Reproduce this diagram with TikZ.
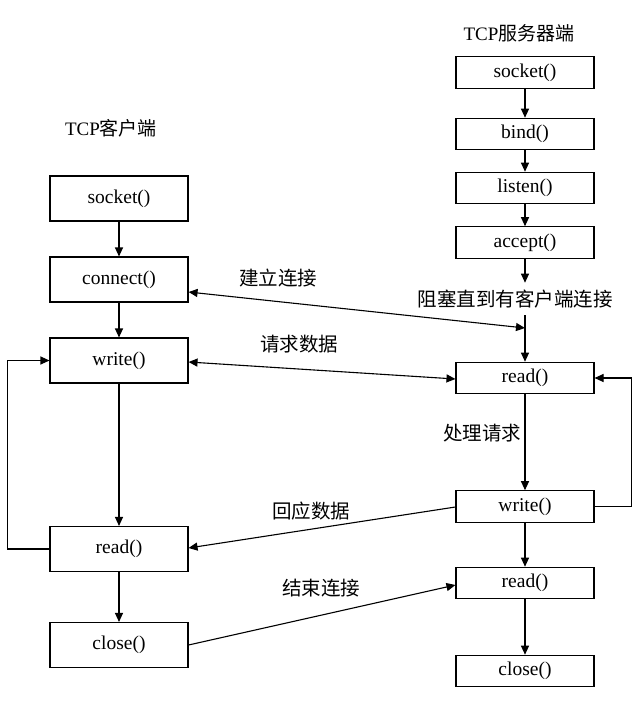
\documentclass[tikz,border=0pt]{standalone}
\usepackage{fontspec}
\setmainfont{Liberation Serif}
\newfontfamily\cjk{Noto Sans CJK SC}
\usetikzlibrary{arrows.meta}
\tikzset{
  box/.style={draw, line width=1.1pt, minimum width=138pt, inner sep=0pt, font=\fontsize{19.5}{19.5}\selectfont},
  cbox/.style={box, minimum height=45pt},
  sbox/.style={box, minimum height=31.5pt},
  lab/.style={font=\fontsize{19.5}{19.5}\selectfont\cjk, inner sep=0pt},
  ttl/.style={font=\fontsize{19}{19}\selectfont, inner sep=0pt},
  ln/.style={line width=1.1pt},
  arr/.style={ln, -{Triangle[length=9pt,width=8pt]}},
  darr/.style={ln, {Triangle[length=9pt,width=8pt]}-{Triangle[length=9pt,width=8pt]}},
}
\begin{document}
\begin{tikzpicture}[x=1pt,y=-1pt]
\useasboundingbox (0,0) rectangle (640,714);
\fill[white] (0,0) rectangle (640,714);
% titles
\node[ttl] (tc) at (111,128) {TCP{\cjk 客户端}};
\node[ttl] (ts) at (519,33) {TCP{\cjk 服务器端}};
% client
\node[cbox] (c1) at (119,198.5) {socket()};
\node[cbox] (c2) at (119,279.5) {connect()};
\node[cbox] (c3) at (119,360.5) {write()};
\node[cbox] (c4) at (119,549) {read()};
\node[cbox] (c5) at (119,645) {close()};
% server
\node[sbox] (s1) at (525,72.5) {socket()};
\node[sbox] (s2) at (525,134) {bind()};
\node[sbox] (s3) at (525,188) {listen()};
\node[sbox] (s4) at (525,242.5) {accept()};
\node[lab, inner ysep=7pt] (blk) at (515,299) {阻塞直到有客户端连接};
\node[sbox] (s5) at (525,378) {read()};
\node[sbox] (s6) at (525,506.5) {write()};
\node[sbox] (s7) at (525,583) {read()};
\node[sbox] (s8) at (525,671) {close()};
% labels
\node[lab] (l1) at (278,278) {建立连接};
\node[lab] (l2) at (299,344) {请求数据};
\node[lab] (l3) at (311,511) {回应数据};
\node[lab] (l4) at (321,588) {结束连接};
\node[lab] (l5) at (482,433) {处理请求};
% client flow
\draw[arr] (c1) -- (c2);
\draw[arr] (c2) -- (c3);
\draw[arr] (c3) -- (c4);
\draw[arr] (c4) -- (c5);
\draw[arr] (c4.west) -- ++(-42,0) |- (c3.west);
% server flow
\draw[arr] (s1) -- (s2);
\draw[arr] (s2) -- (s3);
\draw[arr] (s3) -- (s4);
\draw[arr] (s4.south) -- (s4.south |- blk.north);
\draw[arr] (s5.north |- blk.south) -- (s5.north);
\draw[arr] (s5) -- (s6);
\draw[arr] (s6) -- (s7);
\draw[arr] (s7) -- (s8);
\draw[arr] (s6.east) -- ++(37,0) |- (s5.east);
% exchanges
\coordinate (jc) at (525,328);
\draw[darr] ([yshift=-12.5pt]c2.east) -- (jc);
\draw[darr] ([yshift=-1.5pt]c3.east) -- ([yshift=-1pt]s5.west);
\draw[arr] ([yshift=-0.5pt]s6.west) -- ([yshift=1pt]c4.east);
\draw[arr] (c5.east) -- ([yshift=-2pt]s7.west);
\end{tikzpicture}
\end{document}
